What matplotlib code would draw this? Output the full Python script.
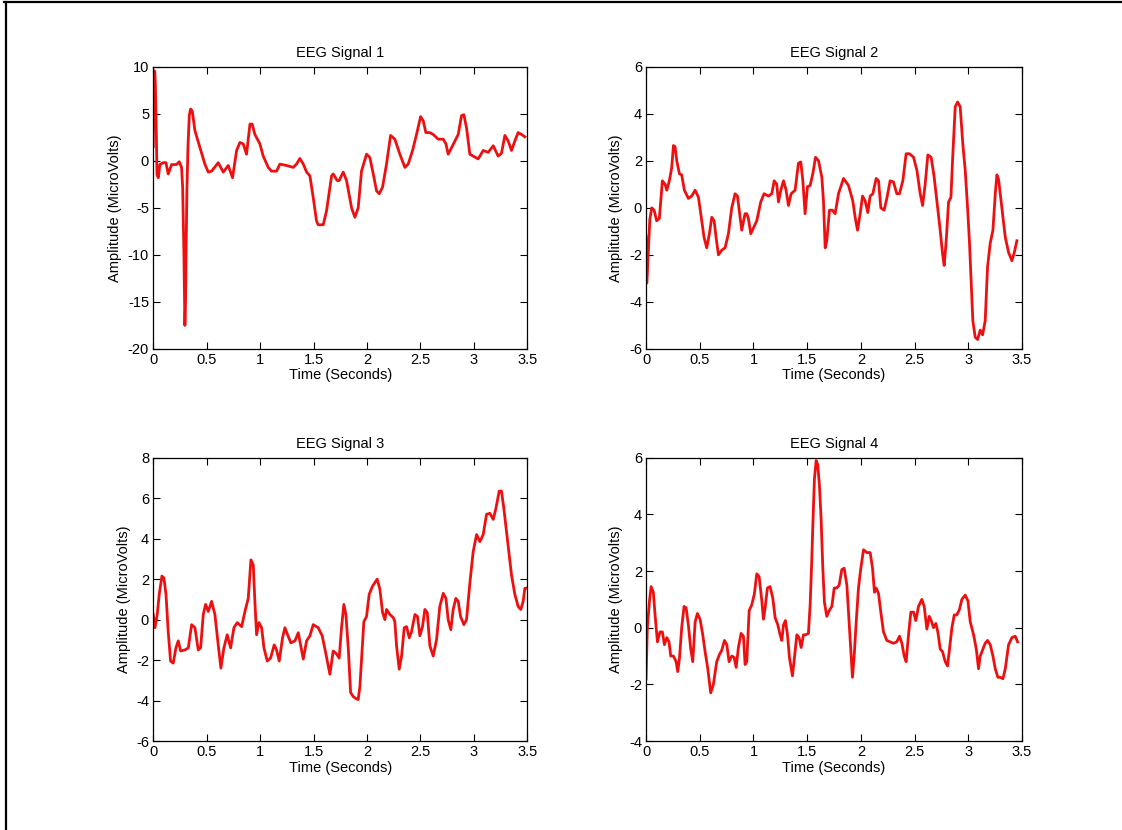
import matplotlib
matplotlib.use("Agg")
import matplotlib.pyplot as plt
from matplotlib.lines import Line2D

plt.rcParams['font.family'] = ['Liberation Sans', 'DejaVu Sans']

# Signal 1
t1 = [0, 0.005, 0.015, 0.02, 0.03, 0.035, 0.047, 0.062, 0.094, 0.119, 0.140, 0.172, 0.218, 0.243,
      0.265, 0.275, 0.287, 0.296, 0.302, 0.308, 0.315, 0.325, 0.337, 0.349, 0.365, 0.390, 0.437,
      0.483, 0.515, 0.546, 0.608, 0.655, 0.702, 0.742, 0.780, 0.811, 0.842, 0.873, 0.905, 0.926,
      0.951, 0.998, 1.029, 1.076, 1.107, 1.154, 1.185, 1.248, 1.310, 1.341, 1.372, 1.404, 1.435,
      1.466, 1.497, 1.528, 1.544, 1.591, 1.622, 1.669, 1.684, 1.722, 1.740, 1.778, 1.809, 1.856,
      1.887, 1.918, 1.949, 1.996, 2.027, 2.059, 2.090, 2.115, 2.146, 2.183, 2.221, 2.261, 2.308,
      2.355, 2.386, 2.427, 2.464, 2.502, 2.527, 2.551, 2.589, 2.620, 2.667, 2.714, 2.739, 2.760,
      2.792, 2.823, 2.854, 2.885, 2.907, 2.932, 2.963, 2.994, 3.041, 3.088, 3.135, 3.182, 3.228,
      3.259, 3.291, 3.322, 3.353, 3.384, 3.415, 3.447, 3.478]
v1 = [1.5, 9.6, 9.5, 8.0, 2.0, -1.5, -1.8, -0.4, -0.2, -0.2, -1.4, -0.4, -0.4, -0.1,
      -0.7, -2.8, -10.0, -17.5, -15.0, -9.0, -3.0, 1.5, 4.8, 5.5, 5.3, 3.2, 1.4,
      -0.35, -1.2, -1.1, -0.2, -1.2, -0.5, -1.8, 1.1, 1.95, 1.8, 0.7, 3.9, 3.9,
      2.8, 1.8, 0.5, -0.7, -1.1, -1.1, -0.35, -0.5, -0.7, -0.35, 0.25, -0.35, -1.2,
      -1.6, -3.9, -6.4, -6.8, -6.8, -5.3, -1.6, -1.4, -2.1, -2.1, -1.2, -2.1, -5.0,
      -6.0, -5.0, -1.1, 0.7, 0.35, -1.4, -3.2, -3.5, -2.8, -0.35, 2.7, 2.3, 0.7,
      -0.7, -0.35, 1.1, 2.8, 4.7, 4.25, 3.0, 3.0, 2.8, 2.3, 2.3, 1.8, 0.7,
      1.4, 2.1, 2.8, 4.8, 4.9, 3.5, 0.7, 0.5, 0.2, 1.1, 0.9, 1.6, 0.5,
      0.8, 2.7, 2.1, 1.1, 2.1, 3.0, 2.8, 2.55]

# Signal 2
t2 = [0, 0.008, 0.02, 0.035, 0.053, 0.075, 0.099, 0.124, 0.152, 0.177, 0.193, 0.217, 0.239, 0.255,
      0.270, 0.286, 0.311, 0.332, 0.357, 0.394, 0.425, 0.457, 0.488, 0.519, 0.540, 0.565, 0.590,
      0.612, 0.634, 0.652, 0.674, 0.705, 0.736, 0.767, 0.798, 0.829, 0.851, 0.876, 0.891, 0.922,
      0.938, 0.953, 0.975, 1.006, 1.031, 1.068, 1.099, 1.140, 1.171, 1.193, 1.217, 1.233, 1.255,
      1.280, 1.304, 1.326, 1.351, 1.388, 1.419, 1.441, 1.460, 1.481, 1.503, 1.528, 1.553, 1.578,
      1.606, 1.637, 1.652, 1.668, 1.683, 1.708, 1.736, 1.761, 1.792, 1.839, 1.885, 1.925, 1.947,
      1.969, 1.994, 2.016, 2.040, 2.065, 2.087, 2.112, 2.143, 2.165, 2.186, 2.217, 2.242, 2.273,
      2.304, 2.335, 2.360, 2.391, 2.422, 2.453, 2.491, 2.522, 2.553, 2.575, 2.599, 2.624, 2.655,
      2.683, 2.708, 2.739, 2.761, 2.776, 2.795, 2.817, 2.839, 2.857, 2.879, 2.901, 2.925, 2.950,
      2.972, 2.994, 3.012, 3.031, 3.043, 3.065, 3.087, 3.112, 3.134, 3.158, 3.180, 3.205, 3.230,
      3.252, 3.267, 3.283, 3.298, 3.323, 3.345, 3.376, 3.407, 3.429, 3.453]
v2 = [-1.2, -3.2, -2.0, -0.5, 0.0, -0.1, -0.55, -0.45, 1.15, 1.0, 0.75, 1.15, 1.7, 2.65,
      2.6, 2.0, 1.45, 1.4, 0.75, 0.4, 0.5, 0.75, 0.45, -0.55, -1.25, -1.7, -1.1,
      -0.4, -0.55, -1.25, -2.0, -1.8, -1.7, -1.1, 0.0, 0.6, 0.5, -0.4, -0.95, -0.25,
      -0.25, -0.45, -1.1, -0.8, -0.55, 0.25, 0.6, 0.5, 0.6, 1.15, 1.0, 0.25, 0.75,
      1.15, 0.75, 0.1, 0.6, 0.75, 1.9, 1.95, 1.15, -0.25, 0.9, 0.95, 1.45, 2.15,
      2.0, 1.3, 0.3, -1.7, -1.4, -0.1, -0.1, -0.25, 0.6, 1.25, 0.95, 0.3, -0.4,
      -0.95, -0.25, 0.5, 0.3, -0.2, 0.5, 0.6, 1.25, 1.15, 0.0, -0.1, 0.4, 1.15,
      1.1, 0.6, 0.6, 1.15, 2.3, 2.3, 2.15, 1.6, 0.6, 0.1, 1.0, 2.25, 2.15,
      1.3, 0.3, -0.95, -1.95, -2.45, -1.4, 0.25, 0.45, 2.3, 4.3, 4.5, 4.3, 2.7,
      1.6, 0.0, -1.5, -3.5, -4.8, -5.5, -5.6, -5.2, -5.4, -4.8, -2.5, -1.5, -0.95,
      0.6, 1.4, 1.2, 0.6, -0.4, -1.25, -1.9, -2.25, -1.9, -1.4]

# Signal 3
t3 = [0, 0.016, 0.037, 0.056, 0.081, 0.100, 0.119, 0.140, 0.162, 0.187, 0.212, 0.234, 0.256, 0.296,
      0.328, 0.359, 0.390, 0.421, 0.443, 0.468, 0.490, 0.515, 0.546, 0.577, 0.608, 0.633, 0.661,
      0.692, 0.724, 0.755, 0.786, 0.827, 0.858, 0.889, 0.914, 0.936, 0.951, 0.967, 0.989, 1.014,
      1.036, 1.067, 1.098, 1.132, 1.154, 1.179, 1.210, 1.232, 1.257, 1.288, 1.326, 1.357, 1.379,
      1.404, 1.435, 1.466, 1.497, 1.544, 1.581, 1.616, 1.653, 1.684, 1.716, 1.740, 1.762, 1.784,
      1.803, 1.825, 1.847, 1.871, 1.896, 1.918, 1.934, 1.959, 1.971, 1.996, 2.021, 2.052, 2.096,
      2.121, 2.146, 2.168, 2.183, 2.215, 2.246, 2.261, 2.277, 2.302, 2.324, 2.349, 2.371, 2.396,
      2.417, 2.449, 2.473, 2.495, 2.520, 2.542, 2.564, 2.589, 2.620, 2.651, 2.682, 2.714, 2.739,
      2.760, 2.785, 2.807, 2.832, 2.854, 2.876, 2.907, 2.932, 2.963, 2.994, 3.026, 3.057, 3.088,
      3.119, 3.150, 3.182, 3.207, 3.238, 3.259, 3.281, 3.306, 3.331, 3.353, 3.384, 3.415, 3.440,
      3.462, 3.478, 3.493]
v3 = [0.25, -0.4, 0.25, 1.25, 2.15, 2.05, 1.25, -0.6, -2.05, -2.15, -1.4, -1.05, -1.55, -1.5,
      -1.4, -0.25, -0.4, -1.5, -1.4, 0.25, 0.75, 0.4, 0.9, 0.25, -1.25, -2.4, -1.4,
      -0.75, -1.4, -0.4, -0.15, -0.35, 0.4, 1.05, 2.95, 2.7, 0.9, -0.75, -0.15, -0.4,
      -1.4, -2.05, -1.9, -1.25, -1.5, -2.05, -0.9, -0.4, -0.75, -1.15, -1.05, -0.65, -1.25,
      -1.95, -1.05, -0.8, -0.25, -0.4, -0.8, -1.7, -2.7, -1.55, -1.7, -1.9, -0.4, 0.75,
      0.25, -1.4, -3.6, -3.8, -3.9, -3.95, -3.3, -1.15, -0.1, 0.15, 1.25, 1.65, 2.0,
      1.5, 0.35, 0.0, 0.5, 0.25, 0.1, -0.1, -1.3, -2.45, -1.8, -0.4, -0.35, -0.9,
      -0.6, 0.25, 0.15, -0.8, -0.35, 0.5, 0.35, -1.3, -1.8, -1.0, 0.65, 1.3, 1.05,
      0.0, -0.5, 0.5, 1.05, 0.9, 0.15, -0.25, 0.0, 1.8, 3.35, 4.2, 3.85, 4.2,
      5.2, 5.25, 4.95, 5.5, 6.35, 6.35, 5.5, 4.35, 3.2, 2.2, 1.25, 0.65, 0.5,
      0.9, 1.55, 1.55]

# Signal 4
t4 = [0, 0.012, 0.031, 0.047, 0.068, 0.084, 0.106, 0.130, 0.152, 0.171, 0.193, 0.214, 0.230, 0.255,
      0.280, 0.295, 0.311, 0.332, 0.354, 0.373, 0.394, 0.416, 0.435, 0.457, 0.478, 0.503, 0.528,
      0.550, 0.575, 0.602, 0.627, 0.658, 0.683, 0.705, 0.730, 0.752, 0.773, 0.798, 0.820, 0.839,
      0.860, 0.885, 0.907, 0.922, 0.938, 0.960, 0.984, 1.009, 1.031, 1.053, 1.078, 1.093, 1.109,
      1.130, 1.155, 1.180, 1.202, 1.227, 1.248, 1.264, 1.280, 1.298, 1.317, 1.335, 1.363, 1.382,
      1.404, 1.425, 1.444, 1.466, 1.488, 1.512, 1.528, 1.543, 1.553, 1.568, 1.584, 1.599, 1.615,
      1.630, 1.646, 1.661, 1.683, 1.705, 1.730, 1.752, 1.776, 1.798, 1.823, 1.845, 1.870, 1.891,
      1.910, 1.922, 1.938, 1.957, 1.978, 2.000, 2.025, 2.056, 2.087, 2.109, 2.127, 2.143, 2.165,
      2.186, 2.211, 2.242, 2.273, 2.304, 2.335, 2.360, 2.382, 2.404, 2.422, 2.444, 2.466, 2.491,
      2.512, 2.537, 2.568, 2.590, 2.615, 2.637, 2.655, 2.677, 2.699, 2.717, 2.739, 2.761, 2.786,
      2.807, 2.826, 2.848, 2.870, 2.894, 2.919, 2.941, 2.972, 2.997, 3.019, 3.050, 3.075, 3.096,
      3.112, 3.137, 3.158, 3.180, 3.205, 3.230, 3.252, 3.276, 3.298, 3.323, 3.345, 3.376, 3.407,
      3.438, 3.460]
v4 = [-1.8, 0.0, 0.9, 1.45, 1.25, 0.45, -0.5, -0.15, -0.15, -0.6, -0.35, -0.5, -1.0, -1.0,
      -1.2, -1.55, -1.1, 0.0, 0.75, 0.7, 0.1, -0.75, -1.2, 0.2, 0.5, 0.3, -0.25,
      -0.85, -1.45, -2.3, -2.0, -1.2, -0.95, -0.8, -0.45, -0.6, -1.2, -1.0, -1.05, -1.4,
      -0.7, -0.2, -0.3, -1.3, -1.2, 0.6, 0.8, 1.2, 1.9, 1.8, 0.95, 0.3, 0.7,
      1.4, 1.45, 1.05, 0.35, 0.1, -0.25, -0.45, 0.1, 0.25, -0.25, -1.05, -1.7, -1.05,
      -0.25, -0.35, -0.7, -0.25, -0.25, -0.2, 0.8, 2.35, 3.6, 5.25, 5.9, 5.75, 5.0,
      3.85, 2.1, 0.9, 0.4, 0.6, 0.75, 1.4, 1.4, 1.5, 2.05, 2.1, 1.5, 0.2,
      -1.0, -1.75, -1.0, 0.2, 1.4, 2.1, 2.75, 2.65, 2.65, 2.1, 1.25, 1.4, 1.2,
      0.55, -0.15, -0.45, -0.5, -0.55, -0.5, -0.3, -0.55, -1.0, -1.2, -0.25, 0.55, 0.55,
      0.25, 0.75, 1.0, 0.75, -0.05, 0.4, 0.25, 0.0, 0.15, -0.15, -0.75, -0.85, -1.2,
      -1.35, -0.75, 0.0, 0.45, 0.45, 0.65, 1.0, 1.15, 0.95, 0.2, -0.25, -0.75, -1.45,
      -1.0, -0.75, -0.55, -0.45, -0.6, -1.0, -1.45, -1.75, -1.75, -1.8, -1.45, -0.6, -0.35,
      -0.3, -0.5]

titles = ["EEG Signal 1", "EEG Signal 2", "EEG Signal 3", "EEG Signal 4"]
times = [t1, t2, t3, t4]
values = [v1, v2, v3, v4]
ylims = [(-20, 10), (-6, 6), (-6, 8), (-4, 6)]
ysteps = [5, 2, 2, 2]
xticks = [0, 0.5, 1, 1.5, 2, 2.5, 3, 3.5]
xticklabels = ["0", "0.5", "1", "1.5", "2", "2.5", "3", "3.5"]

fig = plt.figure(figsize=(11.22, 8.30), dpi=100)

# axes boxes (left, bottom, width, height) in figure fraction
positions = [
    [0.1366, 0.5796, 0.3333, 0.3400],
    [0.5758, 0.5796, 0.3350, 0.3400],
    [0.1366, 0.1072, 0.3333, 0.3414],
    [0.5758, 0.1072, 0.3350, 0.3414],
]

for i in range(4):
    ax = fig.add_axes(positions[i])
    ax.plot(times[i], values[i], color='#ee1010', linewidth=2.0)
    ax.set_xlim(0, 3.5)
    lo, hi = ylims[i]
    ax.set_ylim(lo, hi)
    ax.set_xticks(xticks)
    ax.set_xticklabels(xticklabels)
    yt = list(range(lo, hi + 1, ysteps[i]))
    ax.set_yticks(yt)
    ax.set_yticklabels([str(y) for y in yt])
    ax.tick_params(direction='in', top=True, right=True, length=5, width=0.8,
                   labelsize=10.5, pad=3, colors='black')
    for sp in ax.spines.values():
        sp.set_linewidth(0.9)
    ax.set_title(titles[i], fontsize=10.5, pad=7)
    ax.set_xlabel("Time (Seconds)", fontsize=10.5, labelpad=1)
    ax.set_ylabel("Amplitude (MicroVolts)", fontsize=10.5, labelpad=4)

# frame on top and left of the picture
fig.add_artist(Line2D([0.005, 0.005], [0, 0.997], transform=fig.transFigure, color='black', linewidth=1.6))
fig.add_artist(Line2D([0.004, 1.0], [0.997, 0.997], transform=fig.transFigure, color='black', linewidth=1.6))

fig.savefig("out.png", dpi=100, facecolor='white')
